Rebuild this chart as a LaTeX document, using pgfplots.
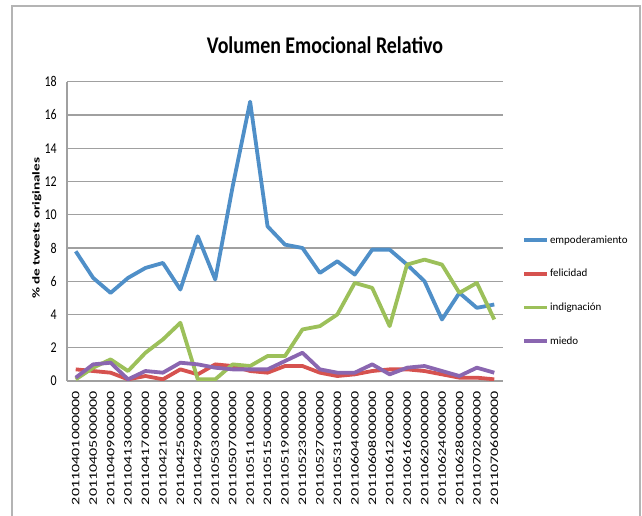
\documentclass[border=0pt]{standalone}
\usepackage{pgfplots}
\pgfplotsset{compat=1.18}
\usepackage{pgfplotstable}
\usepackage{fontspec}
\setmainfont{Carlito}

\definecolor{cEmp}{HTML}{4F8FC8}
\definecolor{cFel}{HTML}{D6524F}
\definecolor{cInd}{HTML}{9CC05A}
\definecolor{cMie}{HTML}{8A66B0}
\definecolor{gridgray}{HTML}{A0A0A0}
\definecolor{framegray}{HTML}{B4B4B4}

% stretched date labels along the text direction
\newcommand{\dl}[1]{\scalebox{1.4}[1]{#1}}

\pgfplotstableread{
x   emp   fel  ind  mie
0   7.8   0.7  0.1  0.2
1   6.2   0.6  0.8  1.0
2   5.3   0.5  1.3  1.1
3   6.2   0.1  0.6  0.1
4   6.8   0.3  1.7  0.6
5   7.1   0.1  2.5  0.5
6   5.5   0.7  3.5  1.1
7   8.7   0.4  0.1  1.0
8   6.1   1.0  0.1  0.8
9   11.7  0.9  1.0  0.7
10  16.8  0.6  0.9  0.7
11  9.3   0.5  1.5  0.7
12  8.2   0.9  1.5  1.2
13  8.0   0.9  3.1  1.7
14  6.5   0.5  3.3  0.7
15  7.2   0.3  4.0  0.5
16  6.4   0.4  5.9  0.5
17  7.9   0.6  5.6  1.0
18  7.9   0.7  3.3  0.4
19  7.0   0.7  7.0  0.8
20  6.0   0.6  7.3  0.9
21  3.7   0.4  7.0  0.6
22  5.3   0.2  5.3  0.3
23  4.4   0.2  5.9  0.8
24  4.6   0.1  3.7  0.5
}\emotable

\begin{document}
\begin{tikzpicture}
\path[use as bounding box] (0,0) rectangle (642bp,516bp);
% chart frame
\draw[framegray, line width=1.2bp] (12bp,-10bp) -- (12bp,510bp) -- (640bp,510bp) -- (640bp,-10bp);
% chart title
\node[font=\fontsize{20}{23}\selectfont\bfseries] at (325bp,471bp)
  {\scalebox{1}[1.2]{Volumen Emocional Relativo}};

\begin{axis}[
  at={(67bp,135bp)}, anchor=south west,
  scale only axis, width=436bp, height=299.3bp,
  xmin=-0.5, xmax=24.5, ymin=0, ymax=18,
  ytick={0,2,...,18},
  xtick={0,...,24},
  xticklabels={\dl{20110401000000},\dl{20110405000000},\dl{20110409000000},
    \dl{20110413000000},\dl{20110417000000},\dl{20110421000000},
    \dl{20110425000000},\dl{20110429000000},\dl{20110503000000},
    \dl{20110507000000},\dl{20110511000000},\dl{20110515000000},
    \dl{20110519000000},\dl{20110523000000},\dl{20110527000000},
    \dl{20110531000000},\dl{20110604000000},\dl{20110608000000},
    \dl{20110612000000},\dl{20110616000000},\dl{20110620000000},
    \dl{20110624000000},\dl{20110628000000},\dl{20110702000000},
    \dl{20110706000000}},
  yticklabel={\scalebox{1}[1.25]{\pgfmathprintnumber[assume math mode=true]{\tick}}},
  axis lines*=left,
  axis line style={draw=gridgray, line width=1.2bp, -},
  ymajorgrids, grid style={gridgray, line width=1.2bp},
  major tick length=0pt,
  xticklabel style={rotate=90, anchor=east, inner sep=0pt,
    font=\fontsize{11.5}{13}\selectfont},
  yticklabel style={anchor=east, inner sep=0pt,
    font=\fontsize{12}{14}\selectfont},
  xticklabel shift=10bp,
  yticklabel shift=10bp,
  ylabel={\scalebox{1.45}[1]{\bfseries\% de tweets originales}},
  ylabel style={at={(axis description cs:-0.069,0.51)}, anchor=center,
    font=\fontsize{10.5}{12}\selectfont},
  legend style={draw=none, fill=none, at={(axis description cs:1.0436,0.302)},
    anchor=west, inner sep=0pt, row sep=22.5bp,
    font=\fontsize{11}{13}\selectfont,
    nodes={inner sep=1bp},
    /tikz/every even column/.append style={column sep=0pt}},
  legend cell align=left,
  legend image code/.code={\draw[#1] (0bp,0bp) -- (23bp,0bp);},
  every axis plot/.append style={line width=3.8bp, line join=round, no marks},
]
\addplot[cEmp] table[x=x, y=emp] {\emotable};
\addlegendentry{empoderamiento}
\addplot[cFel] table[x=x, y=fel] {\emotable};
\addlegendentry{felicidad}
\addplot[cInd] table[x=x, y=ind] {\emotable};
\addlegendentry{indignación}
\addplot[cMie] table[x=x, y=mie] {\emotable};
\addlegendentry{miedo}
\end{axis}
\end{tikzpicture}
\end{document}
